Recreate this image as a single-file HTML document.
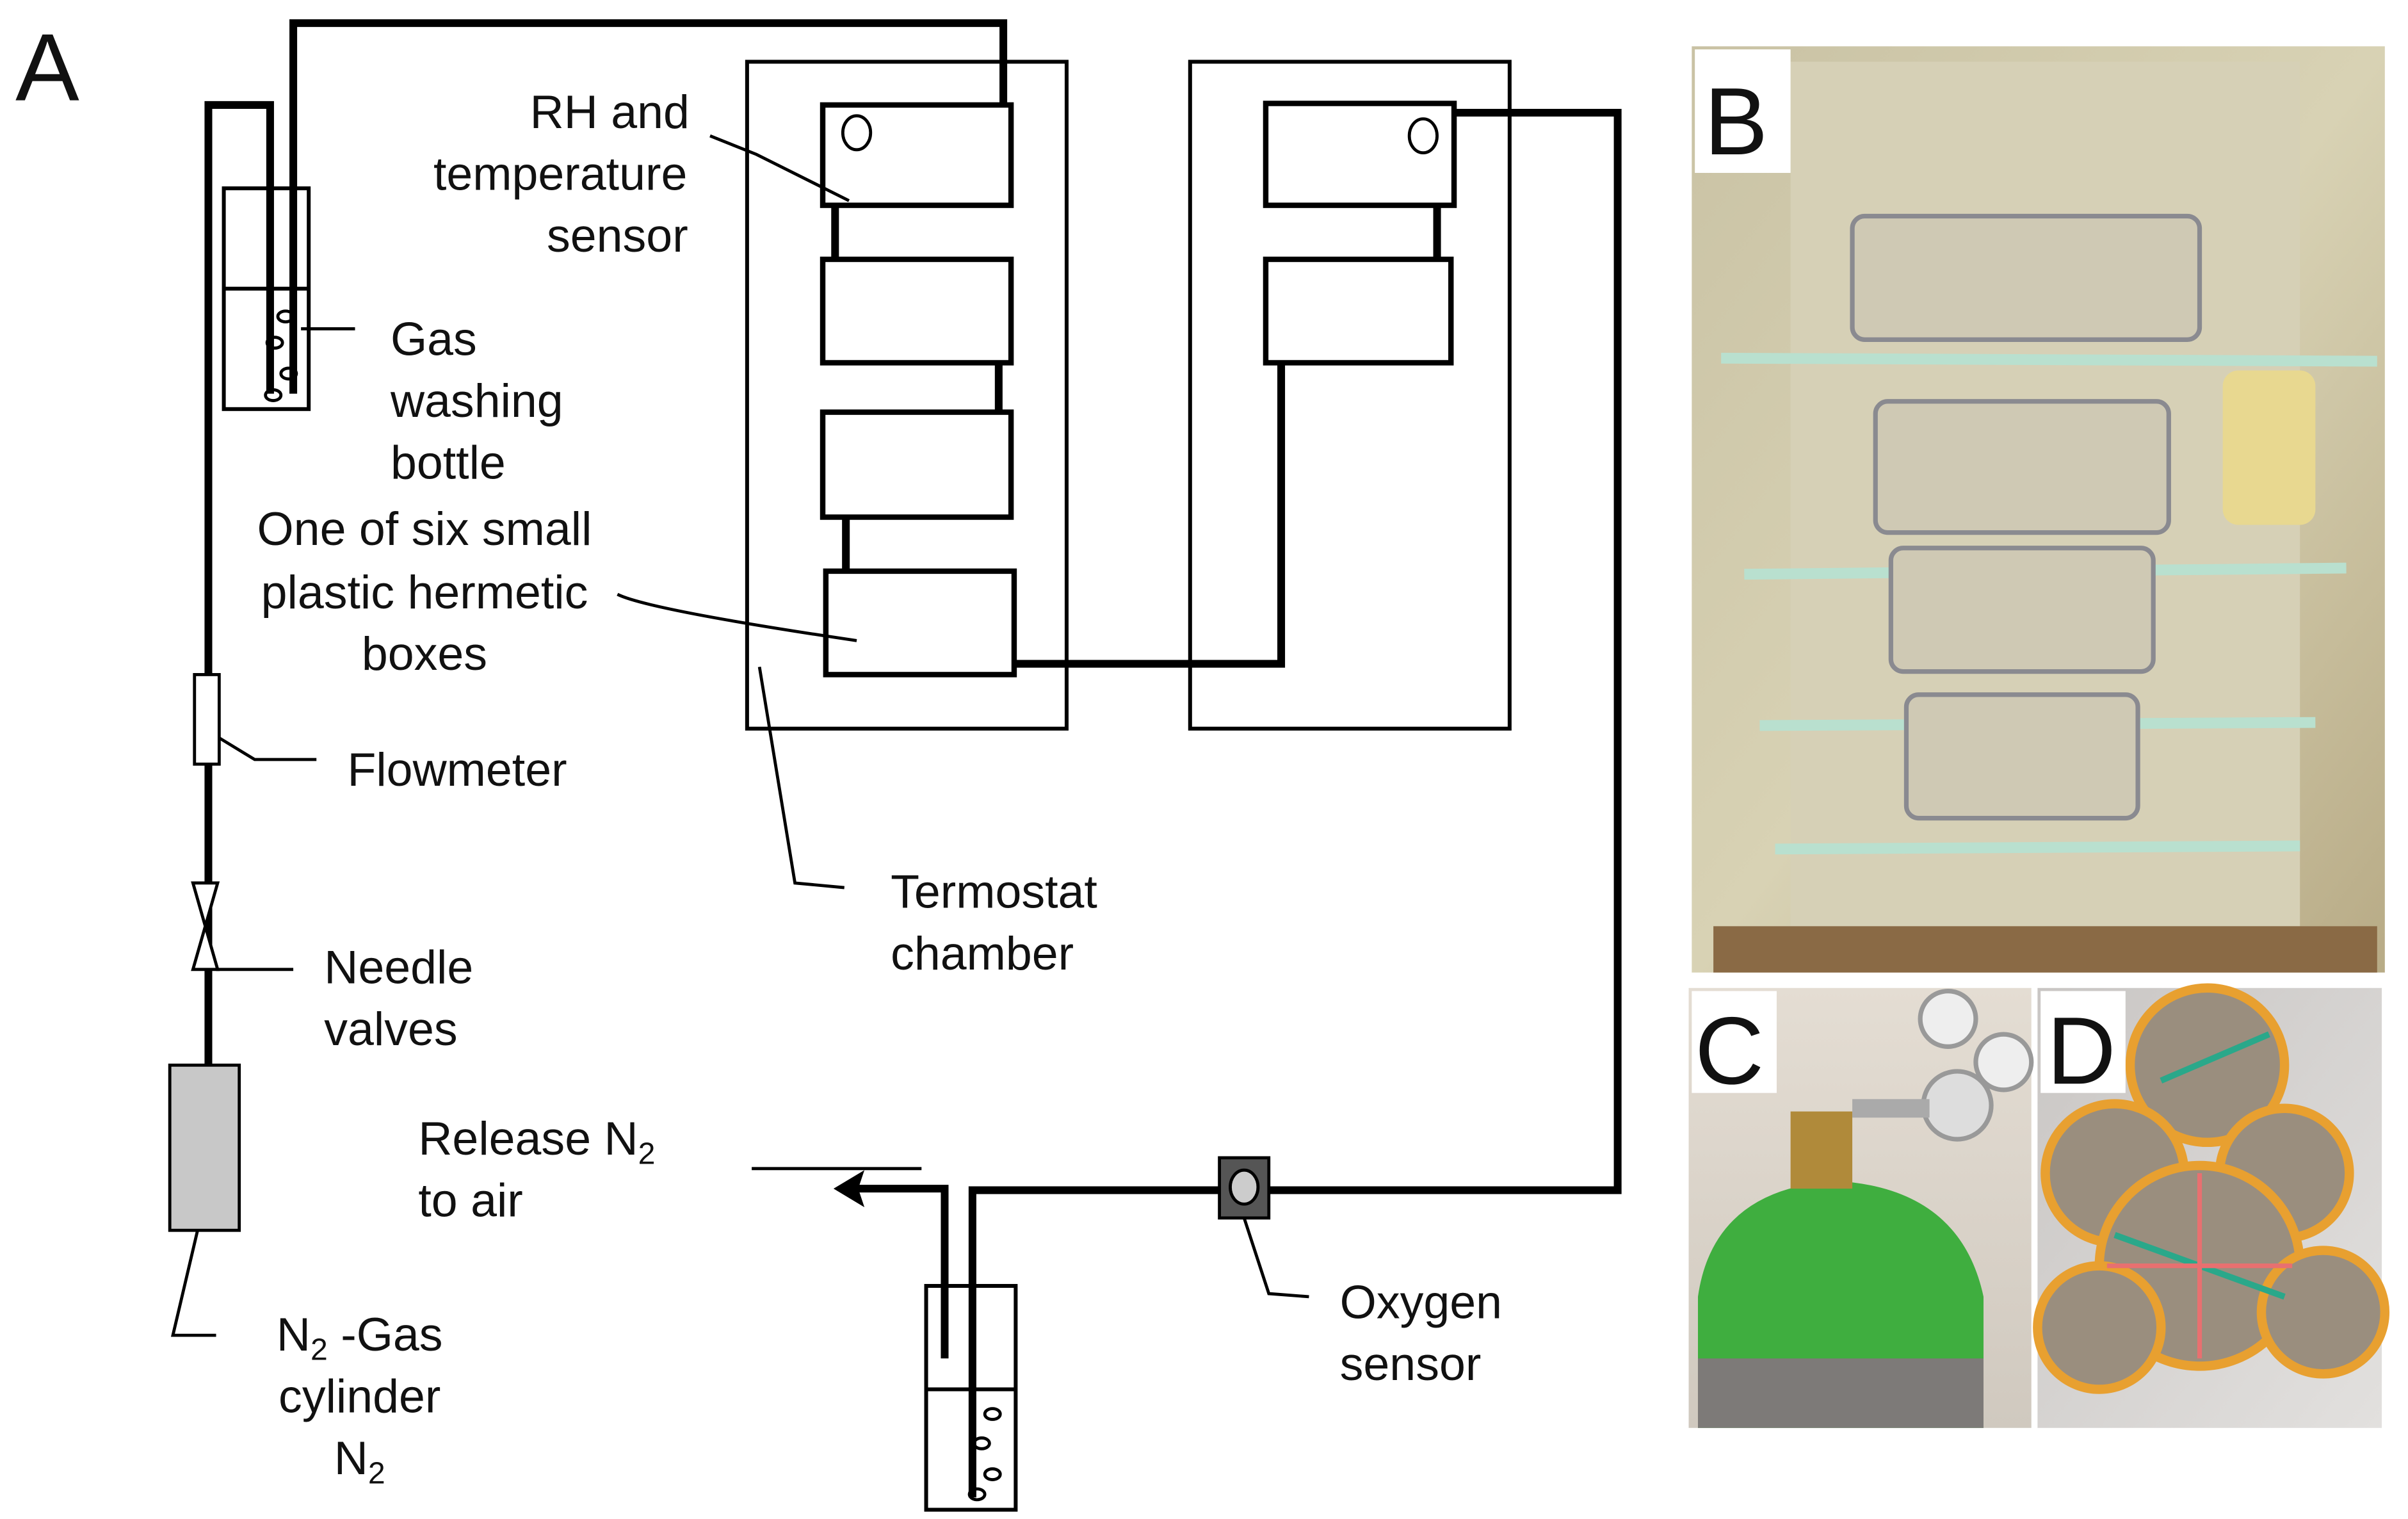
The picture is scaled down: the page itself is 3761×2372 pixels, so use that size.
<!DOCTYPE html>
<html><head><meta charset="utf-8"><style>
html,body{margin:0;padding:0;background:#fff;}
svg{display:block;}
text{font-family:"Liberation Sans",sans-serif;font-size:30.5px;fill:#111;}
</style></head><body>
<svg width="3761" height="2372" viewBox="0 0 1560 984" preserveAspectRatio="none" xmlns="http://www.w3.org/2000/svg">
<defs>
<linearGradient id="gb" x1="0" y1="0" x2="1" y2="1">
<stop offset="0" stop-color="#c9c2a4"/><stop offset="0.5" stop-color="#d8d2b4"/><stop offset="1" stop-color="#b8ab86"/></linearGradient>
<linearGradient id="gc" x1="0" y1="0" x2="0" y2="1">
<stop offset="0" stop-color="#e4ddd3"/><stop offset="1" stop-color="#d0c9bf"/></linearGradient>
<linearGradient id="gd" x1="0" y1="0" x2="1" y2="1">
<stop offset="0" stop-color="#c9c6c4"/><stop offset="1" stop-color="#e2e0de"/></linearGradient>
</defs>
<text x="10" y="65" style="font-size:62px">A</text>
<g fill="none" stroke="#000" stroke-width="5">
<polyline points="135,690 135,68 175,68 175,255"/>
<polyline points="190,255 190,15 650,15 650,68"/>
<line x1="541" y1="133" x2="541" y2="168"/>
<line x1="647" y1="235" x2="647" y2="267"/>
<line x1="548" y1="335" x2="548" y2="370"/>
<polyline points="657,430 830,430 830,235"/>
<line x1="931" y1="133" x2="931" y2="168"/>
<polyline points="942,73 1048,73 1048,771 822,771"/>
<polyline points="790,771 630,771 630,970"/>
<polyline points="612,880 612,770 550,770"/>
</g>
<polygon points="540,770 560,758 556,770 560,782" fill="#000"/>
<g fill="none" stroke="#000" stroke-width="2.5">
<rect x="145" y="122" width="55" height="143"/><line x1="145" y1="187" x2="200" y2="187"/>
<rect x="484" y="40" width="207" height="432"/>
<rect x="771" y="40" width="207" height="432"/>
<rect x="600" y="833" width="58" height="145"/><line x1="600" y1="900" x2="658" y2="900"/>
</g>
<g fill="#fff" stroke="#000" stroke-width="3.5">
<rect x="533" y="68" width="122" height="65"/>
<rect x="533" y="168" width="122" height="67"/>
<rect x="533" y="267" width="122" height="68"/>
<rect x="535" y="370" width="122" height="67"/>
<rect x="820" y="67" width="122" height="66"/>
<rect x="820" y="168" width="120" height="67"/>
</g>
<g fill="none" stroke="#000" stroke-width="2">
<ellipse cx="555" cy="86" rx="9" ry="11"/><ellipse cx="922" cy="88" rx="9" ry="11"/>
<ellipse cx="185" cy="205" rx="5" ry="3.5"/><ellipse cx="178" cy="222" rx="5" ry="3.5"/><ellipse cx="187" cy="242" rx="5" ry="3.5"/><ellipse cx="177" cy="256" rx="5" ry="3.5"/>
<ellipse cx="643" cy="916" rx="5" ry="3.5"/><ellipse cx="636" cy="935" rx="5" ry="3.5"/><ellipse cx="643" cy="955" rx="5" ry="3.5"/><ellipse cx="633" cy="968" rx="5" ry="3.5"/>
<polyline points="460,88 490,100 550,130"/>
<line x1="195" y1="213" x2="230" y2="213"/>
<path d="M400,385 Q420,395 555,415"/>
<polyline points="142,478 165,492 205,492"/>
<line x1="140" y1="628" x2="190" y2="628"/>
<polyline points="492,432 515,572 547,575"/>
<polyline points="128,797 112,865 140,865"/>
<polyline points="806,789 822,838 848,840"/>
<line x1="487" y1="757" x2="597" y2="757"/>
</g>
<rect x="126" y="437" width="16" height="58" fill="#fff" stroke="#000" stroke-width="2"/>
<polygon points="125,572 141,572 125,628 141,628" fill="#fff" stroke="#000" stroke-width="2"/>
<rect x="110" y="690" width="45" height="107" fill="#c8c8c8" stroke="#000" stroke-width="2"/>
<rect x="790" y="750" width="32" height="39" fill="#555" stroke="#000" stroke-width="2"/>
<ellipse cx="806" cy="769" rx="9" ry="11" fill="#ccc" stroke="#000" stroke-width="2"/>
<g text-anchor="middle">
<text x="395" y="83">RH and</text><text x="363" y="123">temperature</text><text x="400" y="163">sensor</text>
<text x="275" y="353">One of six small</text><text x="275" y="394">plastic hermetic</text><text x="275" y="434">boxes</text>
<text x="233" y="875">N<tspan style="font-size:20px" dy="6">2</tspan><tspan dy="-6"> -Gas</tspan></text>
<text x="233" y="915">cylinder</text>
<text x="233" y="955">N<tspan style="font-size:20px" dy="6">2</tspan></text>
</g>
<text x="253" y="230">Gas</text><text x="253" y="270">washing</text><text x="253" y="310">bottle</text>
<text x="225" y="509">Flowmeter</text>
<text x="210" y="637">Needle</text><text x="210" y="677">valves</text>
<text x="577" y="588">Termostat</text><text x="577" y="628">chamber</text>
<text x="271" y="748">Release N<tspan style="font-size:20px" dy="6">2</tspan></text><text x="271" y="788">to air</text>
<text x="868" y="854">Oxygen</text><text x="868" y="894">sensor</text>
<!-- Photo B -->
<rect x="1096" y="30" width="449" height="600" fill="url(#gb)"/>
<rect x="1160" y="40" width="330" height="560" fill="#d6d0b6"/>
<g stroke="#b9e0cf" stroke-width="7">
<line x1="1115" y1="232" x2="1540" y2="234"/><line x1="1130" y1="372" x2="1520" y2="368"/>
<line x1="1140" y1="470" x2="1500" y2="468"/><line x1="1150" y1="550" x2="1490" y2="548"/></g>
<g fill="#cfc9b4" stroke="#8a8a90" stroke-width="3">
<rect x="1200" y="140" width="225" height="80" rx="8"/><rect x="1215" y="260" width="190" height="85" rx="8"/>
<rect x="1225" y="355" width="170" height="80" rx="8"/><rect x="1235" y="450" width="150" height="80" rx="8"/></g>
<rect x="1110" y="600" width="430" height="30" fill="#8a6a45"/>
<rect x="1440" y="240" width="60" height="100" rx="10" fill="#e8d890"/>
<rect x="1098" y="32" width="62" height="80" fill="#fff"/>
<text x="1104" y="100" style="font-size:62px">B</text>
<!-- Photo C -->
<rect x="1094" y="640" width="222" height="285" fill="url(#gc)"/>
<path d="M1100,925 L1100,840 Q1110,770 1190,765 Q1270,770 1285,840 L1285,925 Z" fill="#3fae3f"/>
<rect x="1100" y="880" width="185" height="45" fill="#7d7a78"/>
<rect x="1160" y="720" width="40" height="50" fill="#b08a3a"/>
<circle cx="1268" cy="716" r="22" fill="#ddd" stroke="#999" stroke-width="3"/>
<circle cx="1298" cy="688" r="18" fill="#eee" stroke="#999" stroke-width="3"/>
<circle cx="1262" cy="660" r="18" fill="#eee" stroke="#999" stroke-width="3"/>
<rect x="1200" y="712" width="50" height="12" fill="#aaa"/>
<rect x="1096" y="642" width="55" height="66" fill="#fff"/>
<text x="1098" y="702" style="font-size:62px">C</text>
<!-- Photo D -->
<rect x="1320" y="640" width="223" height="285" fill="url(#gd)"/>
<g stroke="#e8a030" stroke-width="6" fill="#9a8e7e">
<circle cx="1430" cy="690" r="50"/><circle cx="1370" cy="760" r="45"/><circle cx="1480" cy="760" r="42"/>
<circle cx="1425" cy="820" r="65"/><circle cx="1360" cy="860" r="40"/><circle cx="1505" cy="850" r="40"/></g>
<g stroke="#2aa88a" stroke-width="4"><line x1="1400" y1="700" x2="1470" y2="670"/><line x1="1370" y1="800" x2="1480" y2="840"/></g>
<g stroke="#e87070" stroke-width="3"><line x1="1425" y1="760" x2="1425" y2="880"/><line x1="1365" y1="820" x2="1485" y2="820"/></g>
<rect x="1322" y="642" width="55" height="66" fill="#fff"/>
<text x="1326" y="702" style="font-size:62px">D</text>
</svg>
</body></html>
